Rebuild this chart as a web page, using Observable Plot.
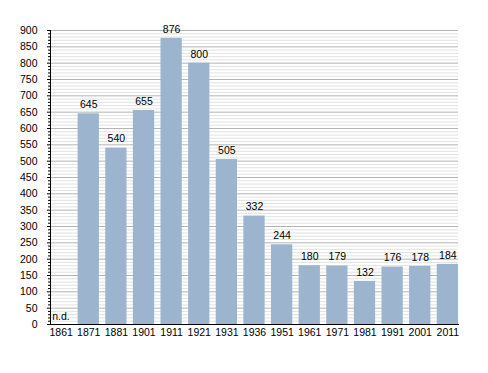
<!DOCTYPE html>
<html>
<head>
<meta charset="utf-8">
<script src="https://cdn.jsdelivr.net/npm/d3@7"></script>
<script src="https://cdn.jsdelivr.net/npm/@observablehq/plot@0.6"></script>
<style>
  html, body { margin: 0; padding: 0; background: #fff; }
  svg { font-family: "Liberation Sans", Arial, sans-serif; }
</style>
</head>
<body>
<div id="chart"></div>
<script>
const years = ["1861","1871","1881","1901","1911","1921","1931","1936","1951","1961","1971","1981","1991","2001","2011"];
const values = [null, 645, 540, 655, 876, 800, 505, 332, 244, 180, 179, 132, 176, 178, 184];
const missingLabel = "n.d.";
const yMajorTicks = d3.range(0, 901, 50);
const yMinorTicks = d3.range(0, 901, 10).filter(v => v % 50 !== 0);

const data = years.map((year, i) => ({year, value: values[i]}));
const present = data.filter(d => d.value != null);
const missing = data.filter(d => d.value == null);

const chart = Plot.plot({
  width: 488,
  height: 373,
  marginLeft: 50,
  marginRight: 30,
  marginTop: 30,
  marginBottom: 49,
  style: {fontSize: "10px", fontFamily: "Liberation Sans, Arial, sans-serif", color: "#000"},
  x: {domain: years, paddingInner: 0.23, paddingOuter: 0, round: false, label: null},
  y: {domain: [0, 900], label: null},
  marks: [
    Plot.ruleY(yMinorTicks, {stroke: "#e2e2e2", strokeWidth: 1}),
    Plot.ruleY(yMajorTicks, {stroke: "#b4b4b4", strokeWidth: 1}),
    Plot.barY(present, {x: "year", y: "value", fill: "#9cb4cd"}),
    Plot.text(present, {x: "year", y: "value", text: d => String(d.value), dy: -9, fill: "#000", fontSize: 10.5}),
    Plot.text(missing, {x: "year", y: () => 0, text: () => missingLabel, textAnchor: "start", dx: -9, dy: -8, fill: "#000", fontSize: 10.5}),
    Plot.axisY({ticks: yMinorTicks, tickSize: 2, tickFormat: () => "", stroke: "#000"}),
    Plot.axisY({ticks: yMajorTicks, tickSize: 3, tickPadding: 10, fontSize: 10.5, stroke: "#000", fill: "#000"}),
    Plot.axisX({tickSize: 0, tickPadding: 4, fontSize: 10.5, fill: "#000"}),
    Plot.frame({anchor: "left", stroke: "#000"}),
    Plot.frame({anchor: "bottom", stroke: "#000"})
  ]
});
document.getElementById("chart").appendChild(chart);
</script>
</body>
</html>
